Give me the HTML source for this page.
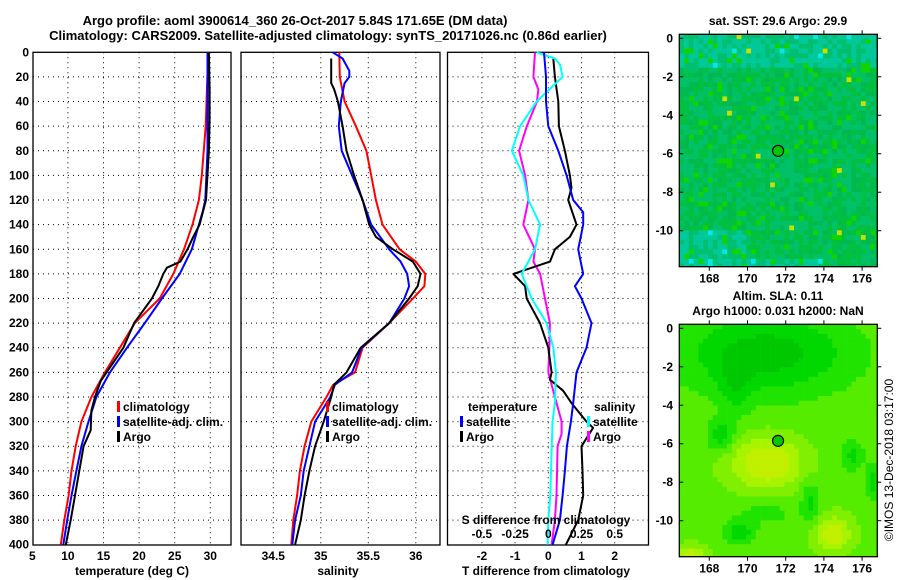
<!DOCTYPE html>
<html><head><meta charset="utf-8"><style>
body{margin:0;background:#fff;}
svg{display:block;font-family:"Liberation Sans",sans-serif;font-weight:bold;}
</style></head><body>
<svg id="c" width="900" height="580" xmlns="http://www.w3.org/2000/svg"></svg>
<script>
// ---------- data ----------
const depthTicks=[0,20,40,60,80,100,120,140,160,180,200,220,240,260,280,300,320,340,360,380,400];
const tTicks=[5,10,15,20,25,30];
const sTicks=[34.5,35,35.5,36];
const dTicks=[-2,-1,0,1,2];
const sdTickLabels=["-0.5","-0.25","0","0.25","0.5"];
const sdTickValues=[-0.5,-0.25,0,0.25,0.5];
// temperature panel
const tClimD=[0,60,100,120,140,160,180,200,220,240,260,280,300,320,340,360,380,400];
const tClimV=[29.7,29.35,28.8,28.4,27.5,26.3,24.8,22.9,19.4,17.3,15.2,13.3,11.9,11.1,10.5,10.1,9.5,9.0];
const tSatD=[0,80,120,130,140,160,180,200,220,240,260,280,300,320,340,360,380,400];
const tSatV=[29.6,29.6,29.3,28.9,28.4,27.4,25.7,23.2,20.8,18.3,15.9,14.0,12.9,11.9,11.2,10.5,9.9,9.35];
const tArgoD=[0,30,55,80,120,140,150,160,170,175,180,190,200,220,240,267,280,291,307,320,340,360,380,400];
const tArgoV=[29.8,29.9,29.9,29.8,29.4,28.5,27.6,26.8,25.8,23.9,23.4,22.7,21.8,19.3,17.8,14.6,13.8,13.3,13.2,12.2,11.6,11.0,10.4,9.7];
// salinity panel
const sClimD=[0,20,40,60,80,100,120,140,160,170,180,190,200,220,240,260,270,280,300,320,340,360,380,400];
const sClimV=[35.195,35.2,35.25,35.37,35.48,35.53,35.58,35.65,35.83,36.0,36.1,36.09,35.97,35.72,35.44,35.36,35.13,35.06,34.9,34.83,34.78,34.75,34.71,34.69];
const sSatD=[0,5,15,20,25,40,60,80,100,120,140,160,170,180,190,200,220,240,260,270,280,300,320,340,360,380,400];
const sSatV=[35.125,35.23,35.3,35.3,35.25,35.21,35.19,35.22,35.33,35.44,35.53,35.72,35.84,35.91,35.93,35.88,35.72,35.43,35.33,35.15,35.1,34.94,34.88,34.82,34.79,34.73,34.70];
const sArgoD=[5,25,30,40,60,80,100,120,140,150,160,170,180,190,200,220,240,260,270,280,300,320,340,360,380,400];
const sArgoV=[35.11,35.11,35.14,35.18,35.23,35.27,35.35,35.44,35.51,35.58,35.76,35.97,36.05,36.02,35.93,35.72,35.42,35.27,35.14,35.11,35.03,34.94,34.88,34.83,34.79,34.73];
// difference panel (T in deg C, S in psu)
const dTSatD=[0,20,40,60,80,100,120,130,140,160,180,190,200,220,240,260,285,300,320,340,360,380,400];
const dTSatV=[-0.13,-0.07,-0.07,0,0.3,0.55,0.75,1.05,1.05,0.9,1.05,0.8,1.0,1.3,1.15,0.85,0.75,0.68,0.56,0.5,0.43,0.35,0.13];
const dTArgoD=[5,20,40,60,80,100,110,120,140,150,160,170,180,190,200,220,240,260,266,275,285,300,305,320,340,360,380,400];
const dTArgoV=[0.15,0.2,0.3,0.32,0.5,0.65,0.7,0.6,0.85,0.65,0.2,0.05,-1.05,-0.7,-0.65,-0.25,0,0.1,0.05,0.45,0.7,1.15,1.35,1.0,1.03,1.05,0.9,0.53];
const dSSatD=[0,20,30,40,60,80,100,120,140,160,170,180,200,220,240,260,280,300,310,320,360,380,400];
const dSSatV=[-0.1,-0.112,-0.075,-0.085,-0.162,-0.22,-0.175,-0.15,-0.188,-0.1,-0.112,-0.062,-0.025,0.012,0.008,0.0,0.05,0.1,0.1,0.07,0.062,0.05,0.025];
const dSArgoD=[0,5,10,20,40,60,80,100,120,140,160,180,200,220,240,260,285,300,340,360,380,400];
const dSArgoV=[-0.088,0.05,0.088,0.108,-0.088,-0.212,-0.275,-0.188,-0.15,-0.062,-0.1,-0.2,-0.125,-0.012,0.038,0.058,0.05,0.032,0.02,0.015,0,-0.005];
// map markers
const argoLon=171.6, argoLat=-5.85;
const lonTicks=[168,170,172,174,176];
const latTicks=[0,-2,-4,-6,-8,-10];

// ---------- helpers ----------
const NS="http://www.w3.org/2000/svg";
const svg=document.getElementById('c');
function el(tag,attrs,parent){const e=document.createElementNS(NS,tag);for(const k in attrs)e.setAttribute(k,attrs[k]);(parent||svg).appendChild(e);return e;}
function txt(x,y,s,size,anchor,parent){const t=el('text',{x:x,y:y,'font-size':size,'text-anchor':anchor||'middle',fill:'#000'},parent);t.textContent=s;return t;}
const Y0=52.3,YS=1.231,Y1=545;
const yD=d=>Y0+d*YS;
const xT=v=>32.3+(v-5)*7.12;
const xS=v=>273.3+(v-34.5)*95;
const xDT=v=>548.3+v*33.2;
const xDS=v=>548.3+v*4*33.2;

function panel(name,x0,x1,vx,vTicks){
  const g=el('g',{});
  
  
  for(const d of depthTicks){if(d===0||d===400)continue;el('line',{x1:x0,x2:x1,y1:yD(d),y2:yD(d),stroke:'#000','stroke-width':1,'stroke-dasharray':'1,4'},g);}
  for(const v of vTicks){const x=vx(v);if(x<=x0+1||x>=x1-1)continue;el('line',{x1:x,x2:x,y1:Y0,y2:Y1,stroke:'#000','stroke-width':1,'stroke-dasharray':'1,4'},g);}
  el('rect',{x:x0,y:Y0,width:x1-x0,height:Y1-Y0,fill:'none',stroke:'#000','stroke-width':1.3},g);
  return g;
}
function series(name,g,ds,vs,fx,color,w){
  let p='';ds.forEach((d,i)=>{p+=(i?'L':'M')+fx(vs[i]).toFixed(1)+','+yD(d).toFixed(1);});
  const e=el('path',{d:p,fill:'none',stroke:color,'stroke-width':w||2,'stroke-linejoin':'round'},g);
  
  
}
function legend(g,x,y,items){
  items.forEach((it,i)=>{
    const yy=y+i*15;
    const r=el('rect',{x:x,y:yy-10,width:3,height:11,fill:it[1]},g);
    
    
    const t=txt(x+6,yy,it[0],12,'start',g);
    
    
  });
}

// titles
let t1=txt(295,25,'Argo profile: aoml 3900614_360 26-Oct-2017 5.84S 171.65E (DM data)',13);


let t2=txt(328,40,'Climatology: CARS2009. Satellite-adjusted climatology: synTS_20171026.nc (0.86d earlier)',13);



// panel 1 temperature
const g1=panel('temperature-panel',33,231,xT,tTicks);
series('temp-climatology-line',g1,tClimD,tClimV,xT,'#f00');
series('temp-satellite-line',g1,tSatD,tSatV,xT,'#00f');
series('temp-argo-line',g1,tArgoD,tArgoV,xT,'#000');
for(const d of depthTicks){const t=txt(29,yD(d)+4,String(d),12,'end',g1);}
for(const v of tTicks){const t=txt(xT(v),560,String(v),12,'middle',g1);}
let xa1=txt(132,575,'temperature (deg C)',12);
legend(g1,117,411,[['climatology','#f00','climatology'],['satellite-adj. clim.','#00f','satellite'],['Argo','#000','argo']]);

// panel 2 salinity
const g2=panel('salinity-panel',241,440,xS,sTicks);
series('sal-climatology-line',g2,sClimD,sClimV,xS,'#f00');
series('sal-satellite-line',g2,sSatD,sSatV,xS,'#00f');
series('sal-argo-line',g2,sArgoD,sArgoV,xS,'#000');
for(const v of sTicks){const t=txt(xS(v),560,String(v),12,'middle',g2);}
let xa2=txt(338,575,'salinity',12);
legend(g2,326,411,[['climatology','#f00','climatology'],['satellite-adj. clim.','#00f','satellite'],['Argo','#000','argo']]);

// panel 3 difference
const g3=panel('difference-panel',447.5,648.5,xDT,dTicks);
series('dsal-satellite-line',g3,dSSatD,dSSatV,xDS,'#f0f');
series('dtemp-argo-line',g3,dTArgoD,dTArgoV,xDT,'#000');
series('dsal-argo-line',g3,dSArgoD,dSArgoV,xDS,'#0ff');
series('dtemp-satellite-line',g3,dTSatD,dTSatV,xDT,'#00f');
for(const v of dTicks){const t=txt(xDT(v),560,String(v),12,'middle',g3);}
sdTickValues.forEach((v,i)=>{const t=txt(xDS(v),538,sdTickLabels[i],12,'middle',g3);});
let sl=txt(546,524,'S difference from climatology',12);
let xa3=txt(546,575,'T difference from climatology',12);
let lt=txt(468,411,'temperature',12,'start',g3);
legend(g3,460,426,[['satellite','#00f','temp-satellite'],['Argo','#000','temp-argo']]);
let ls=txt(594,411,'salinity',12,'start',g3);
legend(g3,587,426,[['satellite','#0ff','sal-satellite'],['Argo','#f0f','sal-argo']]);

// ---------- maps ----------
const MX0=679.3,MX1=877.3;
const mLon=l=>709.3+(l-168)*19.1;
function hash(i,j,s){let h=(i*374761393+j*668265263+s*982451653)|0;h=(h^(h>>>13))*1274126177|0;h=h^(h>>>16);return ((h>>>0)%10000)/10000;}
function mapGroup(name){
  const g=el('g',{});
  
  
  return g;
}
function axesMap(g,top,bottom,lat0y){
  const mLat=l=>lat0y-l*19.24;
  el('rect',{x:MX0,y:top,width:MX1-MX0,height:bottom-top,fill:'none',stroke:'#000','stroke-width':1.3},g);
  for(const l of latTicks){const y=mLat(l);el('line',{x1:MX0,x2:MX0+4,y1:y,y2:y,stroke:'#000'},g);el('line',{x1:MX1,x2:MX1+4,y1:y,y2:y,stroke:'#000'},g);
    const t=txt(673,y+4,String(l),12,'end',g);}
  for(const l of lonTicks){const x=mLon(l);el('line',{x1:x,x2:x,y1:top,y2:top-4,stroke:'#000'},g);el('line',{x1:x,x2:x,y1:bottom,y2:bottom+4,stroke:'#000'},g);
    const t=txt(x,bottom+16,String(l),12,'middle',g);}
  const c=el('circle',{cx:mLon(argoLon),cy:mLat(argoLat),r:5.5,fill:'#00c800',stroke:'#000','stroke-width':1.2},g);
  
  
}
// SST map
const gm1=mapGroup('sst-map');
{
  const top=34.3,bottom=266.7,cs=4.78;
  const nx=Math.ceil((MX1-MX0)/cs),ny=Math.ceil((bottom-top)/cs);
  for(let j=0;j<ny;j++)for(let i=0;i<nx;i++){
    const r=hash(i,j,1),r2=hash(i,j,7);
    const teal=(j<7)||(j>40&&i<14)||(j>46&&i<30);
    let col=teal?(r<0.6?'#00c898':'#00c070'):(r<0.4?'#00c068':(r<0.8?'#00c040':'#00b850'));
    if(r2>0.93)col='#10d400';
    if(r2>0.993)col='#c8e000';
    if(teal&&r2<0.04)col='#00e8e8';
    el('rect',{x:MX0+i*cs,y:top+j*cs,width:Math.min(cs+0.3,MX1-MX0-i*cs),height:Math.min(cs+0.3,bottom-top-j*cs),fill:col},gm1);
  }
  axesMap(gm1,top,bottom,38.3);
  const mt=txt(778,25,'sat. SST: 29.6 Argo: 29.9',12);
}
// SLA map
const gm2=mapGroup('sla-map');
{
  const top=324.3,bottom=556.7,cs=4.78,lat0y=328.3;
  const blobs=[[171,-1.3,4.5,2.2,-0.8],[169.4,-3,0.8,1.5,-0.4],[168.6,-5.6,0.7,0.8,-0.6],[169.6,-10.6,0.8,0.6,-0.6],
    [173.3,-9,0.5,1.0,-0.5],[175.5,-6.6,0.6,0.8,-0.5],[176.6,-8,0.4,1.0,-0.5],[171,-9.6,1.5,0.6,-0.3],
    [171,-7,1.8,1.3,0.9],[174.5,-10.7,0.9,0.9,0.8],[167,-11.8,0.8,0.5,0.7]];
  const cols=['#00c800','#00d800','#20e400','#55ec00','#80f000','#a8f400','#c0f000'];
  const nx=Math.ceil((MX1-MX0)/cs),ny=Math.ceil((bottom-top)/cs);
  for(let j=0;j<ny;j++)for(let i=0;i<nx;i++){
    const lon=168+(MX0+(i+0.5)*cs-709.3)/19.1, lat=-((top+(j+0.5)*cs-lat0y)/19.24);
    let f=0.8;
    for(const b of blobs){const dx=(lon-b[0])/b[2],dy=(lat-b[1])/b[3];f+=b[4]*Math.exp(-(dx*dx+dy*dy));}
    let k=Math.max(0,Math.min(cols.length-1,Math.round(f*4)));
    el('rect',{x:MX0+i*cs,y:top+j*cs,width:Math.min(cs+0.3,MX1-MX0-i*cs),height:Math.min(cs+0.3,bottom-top-j*cs),fill:cols[k]},gm2);
  }
  axesMap(gm2,top,bottom,lat0y);
  const a=txt(778,300,'Altim. SLA: 0.11',12);
  const b=txt(778,315,'Argo h1000: 0.031 h2000: NaN',12);
}
const cr=el('text',{x:0,y:0,'font-size':12,'text-anchor':'middle',fill:'#000','font-weight':'normal',transform:'translate(893,460) rotate(-90)'});
cr.textContent='©IMOS 13-Dec-2018 03:17:00';


</script>
</body></html>
